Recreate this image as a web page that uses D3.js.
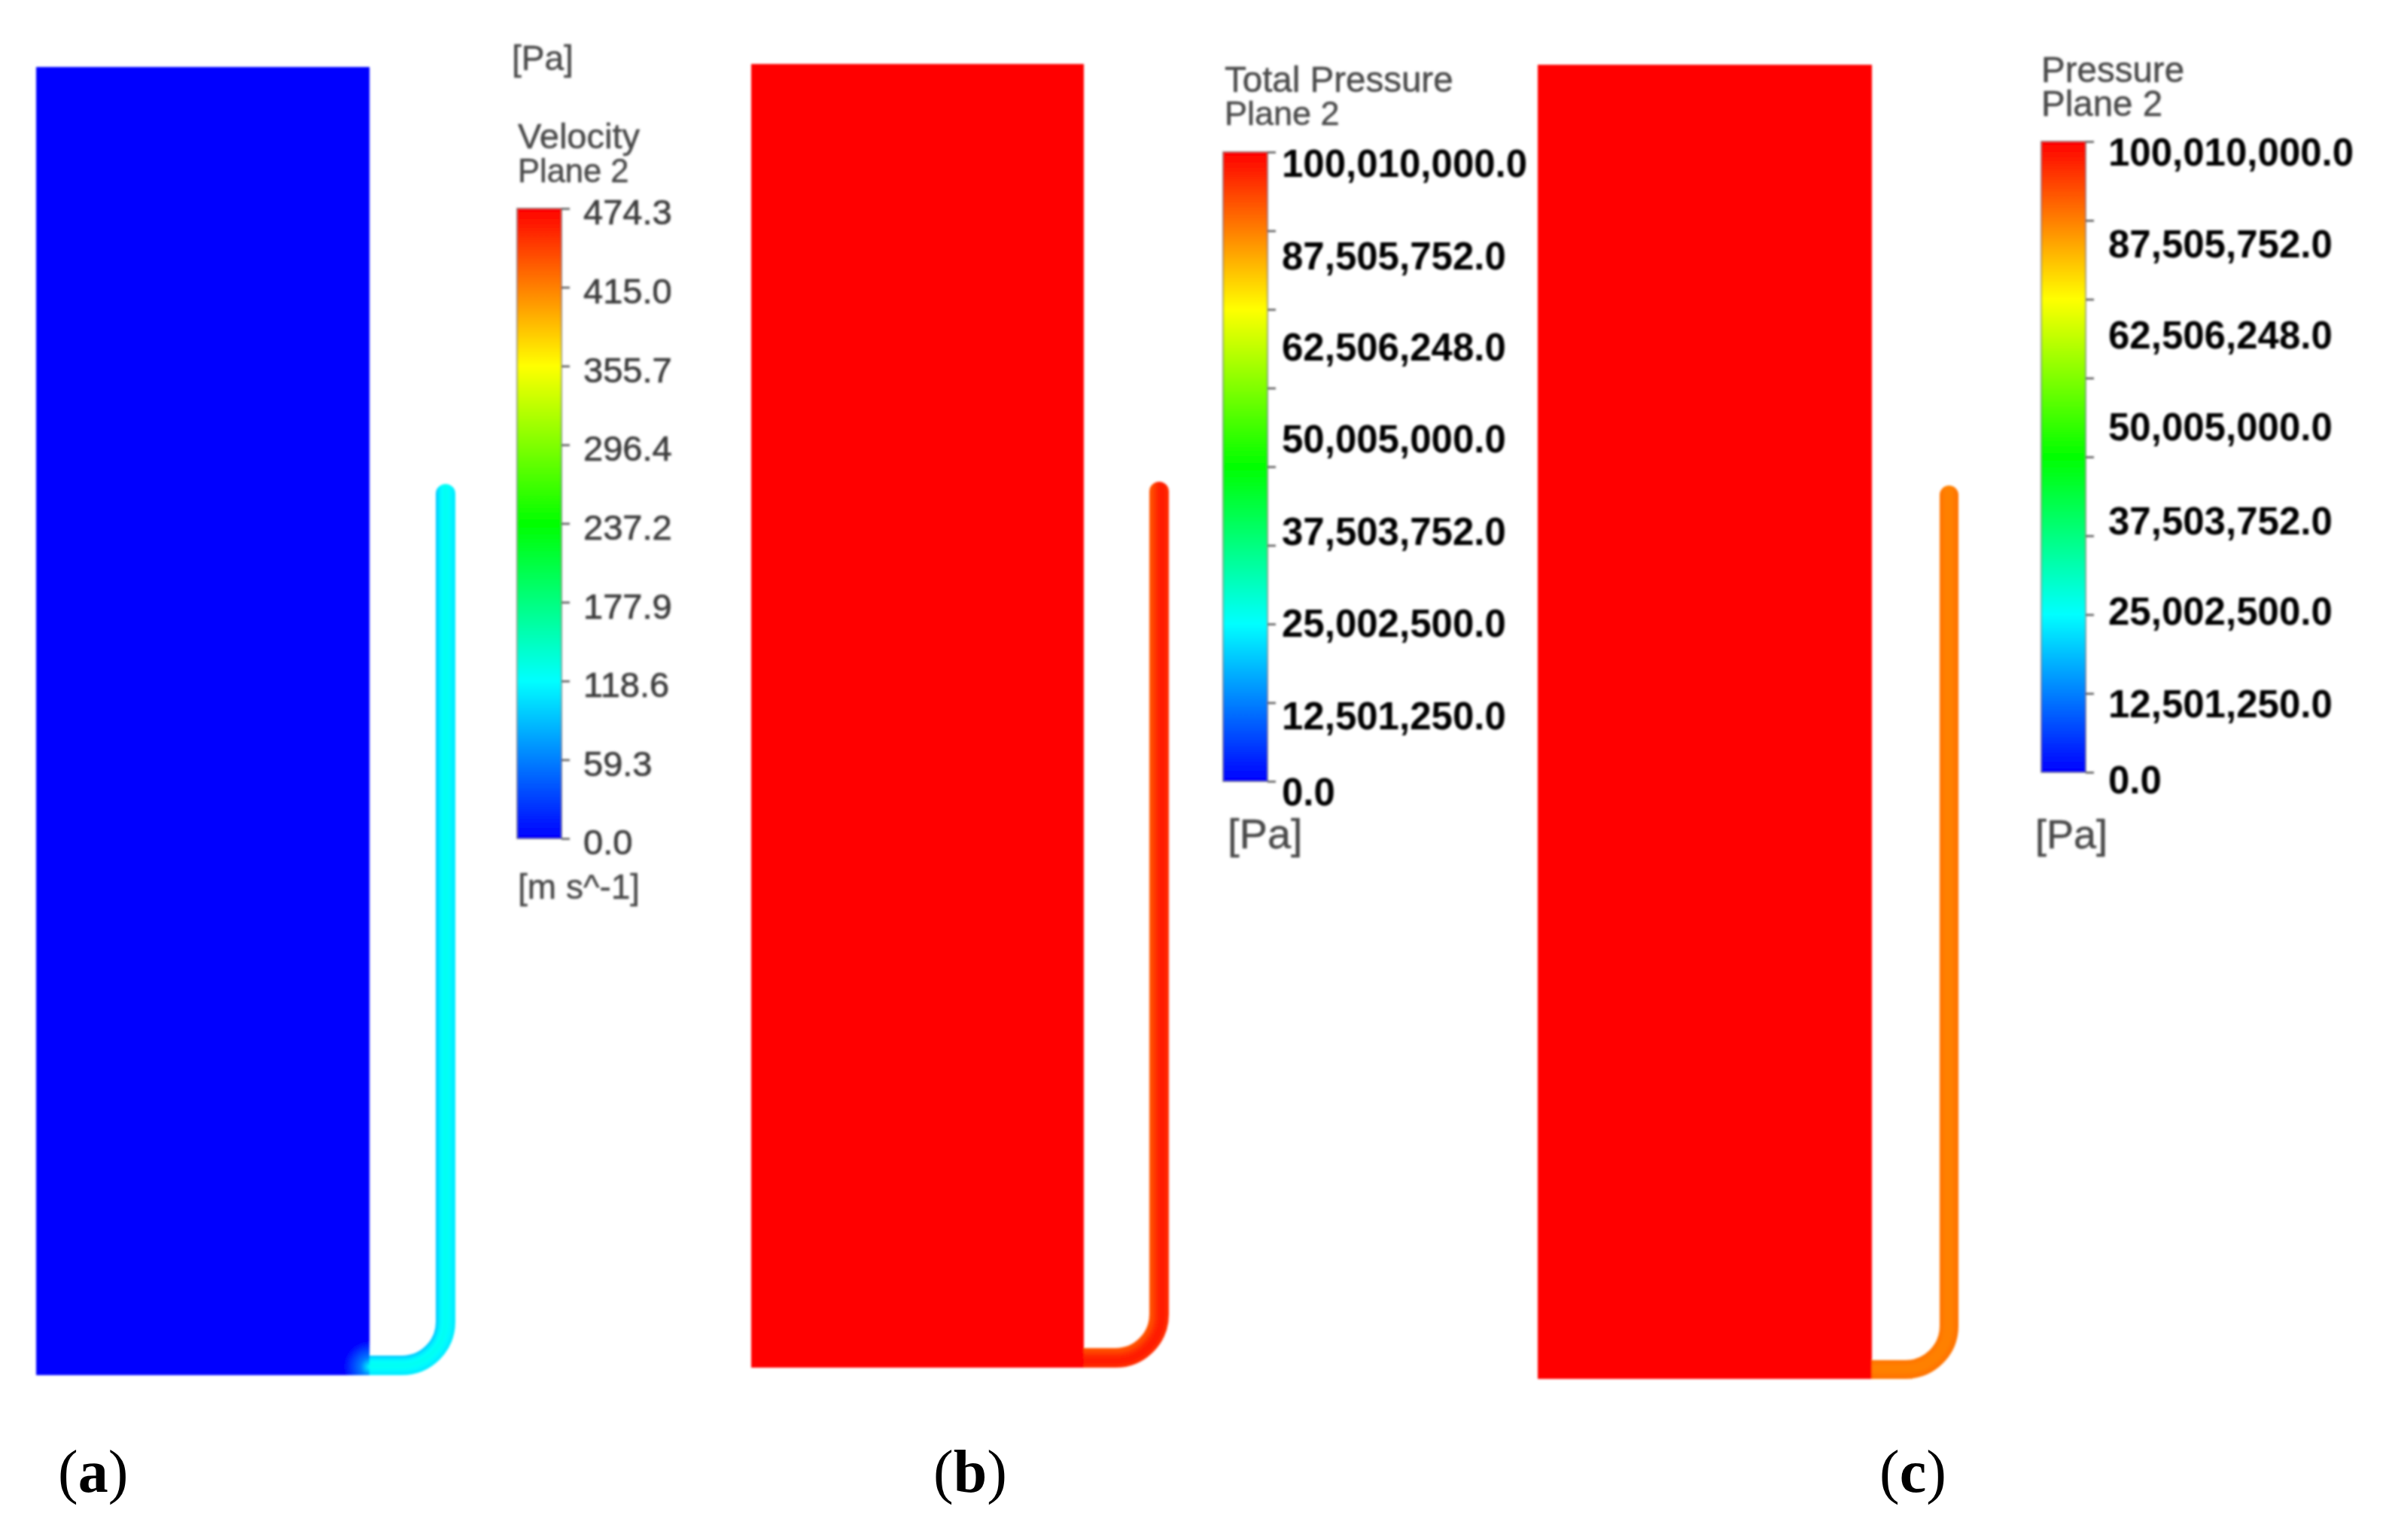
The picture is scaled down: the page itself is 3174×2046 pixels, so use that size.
<!DOCTYPE html>
<html>
<head>
<meta charset="utf-8">
<script src="https://cdn.jsdelivr.net/npm/d3@7"></script>
<style>
  html, body { margin: 0; background: #fff; }
  svg { display: block; }
  .title, .unit { font-family: "Liberation Sans", Arial, sans-serif; fill: #4a4a4a; stroke: #4a4a4a; stroke-width: 0.5px; }
  .tick-label { font-family: "Liberation Sans", Arial, sans-serif; }
  .caption { font-family: "Liberation Serif", serif; font-size: 80px; fill: #000; }
</style>
</head>
<body>
<div id="chart"></div>
<script>
// values
var rampStops = [0, 0.25, 0.5, 0.75, 1];
var rampColors = ['#0000ff', '#00ffff', '#00ff00', '#ffff00', '#ff0000'];

var velocityTicks = [474.3, 415.0, 355.7, 296.4, 237.2, 177.9, 118.6, 59.3, 0.0];
var totalPressureLabels = [100010000, 87505752, 62506248, 50005000, 37503752, 25002500, 12501250, 0];
var pressureLabels = [100010000, 87505752, 62506248, 50005000, 37503752, 25002500, 12501250, 0];
var pressureTicks = [100010000, 87505752, 75000000, 62506248, 50005000, 37503752, 25002500, 12501250, 0];

// field values: tank, then tube from the inner wall to the outer wall
var velocityTank = 2;
var velocityTube = [95, 110, 120, 124, 122, 116, 110];
var totalPressureTank = 100010000;
var totalPressureTube = [92000000, 93000000, 95000000, 96500000, 97500000, 97000000, 96000000];
var pressureTank = 100010000;
var pressureTube = [88500000, 88000000, 87500000, 87500000, 87500000, 88000000, 88500000];

var captions = ['a', 'b', 'c'];

var width = 3174, height = 2046;
var fmtPa = d3.format(',.1f');

var panels = [
  {
    id: 'a', bold: false, unit: '[m s^-1]', title: ['Velocity', 'Plane 2'],
    domain: [0, velocityTicks[0]], ticks: velocityTicks, tank: velocityTank, tube: velocityTube,
    labels: velocityTicks, fmt: d3.format('.1f'), fontSize: 47, labelColor: '#3c3c3c',
    tankBox: [48, 491, 89, 1827], tubeBox: [579, 605, 643, 1827],
    bar: [687, 746, 277, 1114], labelX: 775, labelY: [282, 1119],
    titleX: 688, titleY: [197, 242], titleSize: [47, 43.5], unitSize: 46, unitPos: [688, 1194]
  },
  {
    id: 'b', bold: true, unit: '[Pa]', title: ['Total Pressure', 'Plane 2'],
    domain: [0, pressureTicks[0]], ticks: pressureTicks, tank: totalPressureTank, tube: totalPressureTube,
    labels: totalPressureLabels, fmt: fmtPa, fontSize: 51, labelColor: '#000',
    tankBox: [998, 1440, 85, 1817], tubeBox: [1527, 1553, 640, 1817],
    bar: [1625, 1684, 202, 1038], labelX: 1703, labelY: [217, 340, 461, 583, 706, 828, 951, 1052],
    titleX: 1627, titleY: [122, 166], titleSize: [47.5, 45], unitSize: 56, unitPos: [1631, 1127]
  },
  {
    id: 'c', bold: true, unit: '[Pa]', title: ['Pressure', 'Plane 2'],
    domain: [0, pressureTicks[0]], ticks: pressureTicks, tank: pressureTank, tube: pressureTube,
    labels: pressureLabels, fmt: fmtPa, fontSize: 51, labelColor: '#000',
    tankBox: [2043, 2487, 86, 1832], tubeBox: [2577, 2602, 645, 1832],
    bar: [2712, 2771, 188, 1026], labelX: 2801, labelY: [202, 324, 445, 567, 692, 812, 935, 1036],
    titleX: 2712, titleY: [109, 154], titleSize: [47.5, 47.5], unitSize: 54, unitPos: [2704, 1127]
  }
];

var svg = d3.select('#chart').append('svg')
  .attr('width', width)
  .attr('height', height);

var defs = svg.append('defs');
defs.append('filter').attr('id', 'soft')
  .attr('x', '-5%').attr('y', '-5%').attr('width', '110%').attr('height', '110%')
  .append('feGaussianBlur').attr('stdDeviation', 1.5);

var root = svg.append('g').attr('filter', 'url(#soft)');

var rampColor = d3.scaleLinear().domain(rampStops).range(rampColors).clamp(true);

var grad = defs.append('linearGradient').attr('id', 'ramp')
  .attr('x1', 0).attr('y1', 1).attr('x2', 0).attr('y2', 0);
grad.selectAll('stop').data(rampStops).enter().append('stop')
  .attr('offset', function(d) { return d; })
  .attr('stop-color', function(d) { return rampColor(d); });

// tube centreline with an offset across the bore, from the tank wall up to the open end
var tubePath = function(p, off, top) {
  var c = (p.tubeBox[0] + p.tubeBox[1]) / 2 + off;
  var w = p.tubeBox[1] - p.tubeBox[0];
  var bottom = p.tubeBox[3] - w / 2 + off;
  var r = 58 + off;
  var path = d3.path();
  path.moveTo(p.tankBox[1] - 4, bottom);
  path.lineTo(c - r, bottom);
  path.arc(c - r, bottom - r, r, Math.PI / 2, 0, true);
  path.lineTo(c, top);
  return path.toString();
};

panels.forEach(function(p) {
  var g = root.append('g').attr('class', 'panel-' + p.id);
  var color = function(v) { return rampColor((v - p.domain[0]) / (p.domain[1] - p.domain[0])); };
  var w = p.tubeBox[1] - p.tubeBox[0];

  // tube, lane by lane across the bore, masked to get the rounded end
  var clipId = 'tube-clip-' + p.id;
  var mask = defs.append('mask').attr('id', clipId).attr('maskUnits', 'userSpaceOnUse')
    .attr('x', 0).attr('y', 0).attr('width', width).attr('height', height);
  mask.append('path')
    .attr('d', tubePath(p, 0, p.tubeBox[2] + w / 2))
    .attr('fill', 'none')
    .attr('stroke', '#fff')
    .attr('stroke-width', w)
    .attr('stroke-linecap', 'round');

  var lane = d3.scaleBand().domain(d3.range(p.tube.length)).range([-w / 2, w / 2]);
  g.append('g').attr('mask', 'url(#' + clipId + ')')
    .selectAll('path')
    .data(p.tube)
    .enter().append('path')
    .attr('d', function(d, i) { return tubePath(p, lane(i) + lane.bandwidth() / 2, p.tubeBox[2] - 5); })
    .attr('fill', 'none')
    .attr('stroke', function(d) { return color(d); })
    .attr('stroke-width', lane.bandwidth() + 1.5);

  // tank
  g.append('rect')
    .attr('x', p.tankBox[0])
    .attr('y', p.tankBox[2])
    .attr('width', p.tankBox[1] - p.tankBox[0])
    .attr('height', p.tankBox[3] - p.tankBox[2])
    .attr('fill', color(p.tank));

  // colour bar
  var barY = d3.scaleLinear().domain(p.domain).range([p.bar[3], p.bar[2]]);
  g.append('rect')
    .attr('x', p.bar[0])
    .attr('y', p.bar[2])
    .attr('width', p.bar[1] - p.bar[0])
    .attr('height', p.bar[3] - p.bar[2])
    .attr('fill', 'url(#ramp)')
    .attr('stroke', '#555')
    .attr('stroke-opacity', 0.6)
    .attr('stroke-width', 2);

  var axis = d3.axisRight(barY).tickValues(p.ticks).tickSize(11).tickFormat('');
  var axisG = g.append('g')
    .attr('transform', 'translate(' + p.bar[1] + ',0)')
    .call(axis);
  axisG.select('.domain').remove();
  axisG.selectAll('line').attr('stroke', '#555').attr('stroke-width', 2.5);

  // labels do not sit on the ticks in the pressure panels, so they get their own scale
  var idx = d3.range(p.labels.length);
  var labelPos = p.labelY.length === 2
    ? d3.scaleLinear().domain([0, idx.length - 1]).range(p.labelY)
    : function(i) { return p.labelY[i]; };

  g.selectAll('text.tick-label')
    .data(p.labels)
    .enter().append('text')
    .attr('class', 'tick-label')
    .attr('x', p.labelX)
    .attr('y', function(d, i) { return labelPos(i); })
    .attr('dy', '0.35em')
    .attr('font-size', p.fontSize)
    .attr('font-weight', p.bold ? 700 : 400)
    .attr('fill', p.labelColor)
    .attr('stroke', p.bold ? 'none' : p.labelColor)
    .attr('stroke-width', 0.7)
    .text(function(d) { return p.fmt(d); });

  g.selectAll('text.title')
    .data(p.title)
    .enter().append('text')
    .attr('class', 'title')
    .attr('x', p.titleX)
    .attr('y', function(d, i) { return p.titleY[i]; })
    .attr('font-size', function(d, i) { return p.titleSize[i]; })
    .text(function(d) { return d; });

  g.append('text')
    .attr('class', 'unit')
    .attr('x', p.unitPos[0])
    .attr('y', p.unitPos[1])
    .attr('font-size', p.unitSize)
    .text(p.unit);
});

// hot spot where the tube enters the tank in (a)
var spot = defs.append('radialGradient').attr('id', 'spot');
spot.append('stop').attr('offset', 0).attr('stop-color', rampColor(0.25));
spot.append('stop').attr('offset', 0.35).attr('stop-color', rampColor(0.12));
spot.append('stop').attr('offset', 1).attr('stop-color', rampColor(0.005));
defs.append('clipPath').attr('id', 'tank-a')
  .append('rect').attr('x', 48).attr('y', 89).attr('width', 443).attr('height', 1738);
root.select('.panel-a').append('circle')
  .attr('cx', 491).attr('cy', 1816).attr('r', 34)
  .attr('fill', 'url(#spot)')
  .attr('clip-path', 'url(#tank-a)');

// stray unit label above the velocity legend
root.append('text')
  .attr('class', 'unit')
  .attr('x', 680)
  .attr('y', 93)
  .attr('font-size', 46)
  .text('[Pa]');

// panel captions
var captionX = d3.scaleOrdinal().domain(captions).range([77, 1240, 2497]);
var cap = svg.selectAll('text.caption')
  .data(captions)
  .enter().append('text')
  .attr('class', 'caption')
  .attr('x', function(d) { return captionX(d); })
  .attr('y', 1982);
cap.append('tspan').text('(');
cap.append('tspan').attr('font-weight', 700).text(function(d) { return d; });
cap.append('tspan').text(')');
</script>
</body>
</html>
